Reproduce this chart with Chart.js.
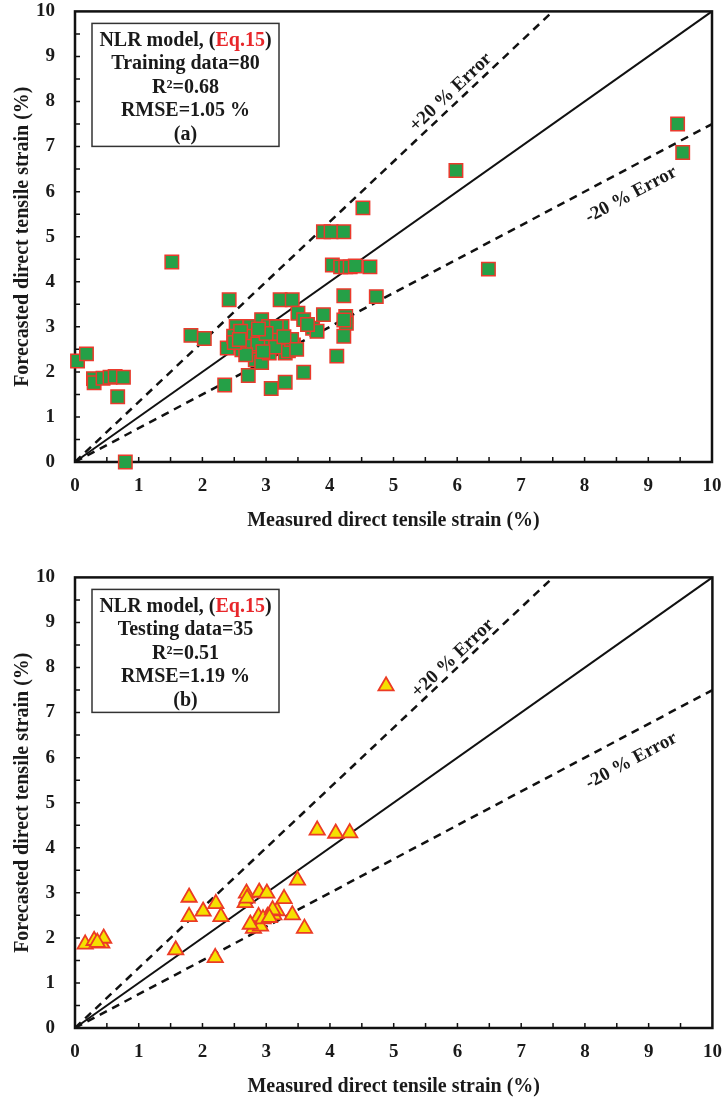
<!DOCTYPE html>
<html>
<head>
<meta charset="utf-8">
<script src="https://cdn.jsdelivr.net/npm/chart.js@4.4.1/dist/chart.umd.min.js"></script>
<style>
  body { margin: 0; background: #fff; width: 723px; height: 1100px; overflow: hidden; position: relative; }
  .box { position: absolute; left: 0; width: 723px; height: 540px; }
</style>
</head>
<body>
<div class="box" style="top:-1px"><canvas id="chartA" width="723" height="540"></canvas></div>
<div class="box" style="top:565px"><canvas id="chartB" width="723" height="540"></canvas></div>
<script>
// training data (a)
const trainMeasured = [0.04, 0.18, 0.29, 0.30, 0.44, 0.55, 0.63, 0.76, 0.67, 0.79,
  1.52, 1.82, 2.03, 2.35, 2.42, 2.53, 2.39, 2.49, 2.62, 2.75,
  2.77, 2.78, 2.83, 2.72, 2.93, 2.93, 3.04, 3.01, 3.05, 3.08,
  3.22, 3.25, 3.22, 3.30, 3.30, 3.41, 3.43, 3.50, 3.59, 3.59,
  3.73, 3.80, 3.90, 3.90, 4.02, 4.04, 4.11, 4.22, 4.22, 4.25,
  4.26, 4.22, 4.17, 4.25, 4.32, 4.40, 4.52, 4.63, 4.73, 5.98,
  6.49, 9.46, 9.54,
  2.60, 2.87, 3.12, 3.15, 3.35, 2.95, 2.68, 3.16, 3.40, 3.65, 2.50, 3.00, 4.22, 2.88, 3.28, 2.58, 3.48];
const trainForecast = [2.24, 2.40, 1.85, 1.76, 1.86, 1.88, 1.90, 1.88, 1.45, 0,
  4.44, 2.81, 2.74, 1.71, 3.60, 3.01, 2.53, 2.79, 2.49, 3.01,
  2.79, 2.57, 2.27, 1.92, 2.21, 3.16, 3.01, 2.72, 2.42, 1.63,
  3.60, 3.01, 2.66, 2.42, 1.77, 3.60, 2.60, 3.30, 3.16, 1.99,
  2.97, 2.90, 3.27, 5.11, 5.11, 4.37, 2.35, 5.11, 3.69, 3.23,
  3.08, 2.79, 4.33, 4.33, 4.33, 4.35, 5.64, 4.33, 3.67, 6.47,
  4.28, 7.50, 6.87,
  2.90, 2.62, 2.85, 2.55, 2.47, 2.45, 2.38, 3.00, 2.72, 3.05, 2.65, 2.85, 3.15, 2.95, 2.78, 2.72, 2.50];

// testing data (b)
const testMeasured = [0.16, 0.30, 0.42, 0.45, 1.58, 1.79, 1.79, 2.01, 2.21, 2.29,
  2.20, 2.69, 2.67, 2.80, 2.88, 2.91, 2.89, 3.01, 3.02, 3.12,
  3.17, 3.28, 3.41, 3.49, 3.60, 3.80, 4.09, 4.31, 4.88,
  2.75, 2.95, 3.10, 0.35, 2.70, 3.05];
const testForecast = [1.86, 1.94, 1.88, 1.99, 1.73, 2.90, 2.47, 2.59, 2.76, 2.47,
  1.56, 2.99, 2.78, 2.21, 2.47, 2.26, 3.01, 2.99, 2.47, 2.51,
  2.60, 2.87, 2.51, 3.28, 2.21, 4.39, 4.32, 4.33, 7.59,
  2.30, 2.42, 2.62, 1.90, 2.88, 2.45];

// reference lines: 1:1 and the two error bounds
const lineX = [0, 10];
const lineY = [0, 10];
const upperX = [0, 7.5];
const upperY = [0, 10];
const lowerX = [0, 10];
const lowerY = [0, 7.5];
const ticks = [0, 1, 2, 3, 4, 5, 6, 7, 8, 9, 10];

const serif = '"Liberation Serif", "Times New Roman", serif';

function pts(xs, ys) { return xs.map((v, i) => ({x: v, y: ys[i]})); }

const frame = {
  id: 'frame',
  beforeDatasetsDraw(chart) {
    const {ctx, chartArea: a, scales: {x, y}} = chart;
    ctx.save();
    ctx.strokeStyle = '#111';
    ctx.lineWidth = 2.5;
    ctx.strokeRect(a.left, a.top, a.right - a.left, a.bottom - a.top);
    ctx.lineWidth = 1.5;
    ctx.beginPath();
    for (let v = 0.5; v < 10; v += 0.5) {
      const px = x.getPixelForValue(v);
      ctx.moveTo(px, a.bottom); ctx.lineTo(px, a.bottom - 5);
      const py = y.getPixelForValue(v);
      ctx.moveTo(a.left, py); ctx.lineTo(a.left + 5, py);
    }
    ctx.stroke();
    ctx.restore();
  }
};

const notes = {
  id: 'notes',
  afterDraw(chart, args, opts) {
    const {ctx, chartArea: a, scales: {x, y}} = chart;
    ctx.save();
    // info box
    const bx = a.left + 17, by = a.top + 12, bw = 187, bh = 123;
    ctx.strokeStyle = '#333';
    ctx.lineWidth = 1.5;
    ctx.strokeRect(bx, by, bw, bh);
    ctx.font = 'bold 20px ' + serif;
    ctx.textBaseline = 'middle';
    ctx.fillStyle = '#1a1a1a';
    const cx = bx + bw / 2;
    // first line with red equation ref
    const p1 = 'NLR model, (', p2 = 'Eq.15', p3 = ')';
    const w1 = ctx.measureText(p1).width, w2 = ctx.measureText(p2).width, w3 = ctx.measureText(p3).width;
    let sx = cx - (w1 + w2 + w3) / 2;
    const ly = by + 17;
    ctx.textAlign = 'left';
    ctx.fillText(p1, sx, ly);
    ctx.fillStyle = '#e8262a';
    ctx.fillText(p2, sx + w1, ly);
    ctx.fillStyle = '#1a1a1a';
    ctx.fillText(p3, sx + w1 + w2, ly);
    ctx.textAlign = 'center';
    opts.lines.forEach((t, i) => ctx.fillText(t, cx, ly + 23.5 * (i + 1)));

    // error labels
    ctx.font = 'bold 19px ' + serif;
    const lab = (txt, vx, vy, ang) => {
      ctx.save();
      ctx.translate(x.getPixelForValue(vx), y.getPixelForValue(vy));
      ctx.rotate(ang);
      ctx.fillText(txt, 0, 0);
      ctx.restore();
    };
    lab('+20 % Error', opts.up[0], opts.up[1], -Math.atan(4 / 3 * 45.2 / 63.5));
    lab('-20 % Error', opts.low[0], opts.low[1], -Math.atan(0.75 * 45.2 / 63.5));
    ctx.restore();
  }
};

// invisible tick marks keep labels offset from the axis without widening the layout padding
const hiddenTicks = len => ({display: true, drawOnChartArea: false, drawTicks: true, tickLength: len, tickColor: 'rgba(0,0,0,0)'});

function makeChart(id, xs, ys, marker, info) {
  const refStyle = {type: 'line', pointRadius: 0, borderColor: '#111', fill: false, clip: false, order: 2};
  return new Chart(document.getElementById(id), {
    type: 'scatter',
    data: {
      datasets: [
        Object.assign({data: pts(lineX, lineY), borderWidth: 2}, refStyle),
        Object.assign({data: pts(upperX, upperY), borderWidth: 2.5, borderDash: [8, 6]}, refStyle),
        Object.assign({data: pts(lowerX, lowerY), borderWidth: 2.5, borderDash: [8, 6]}, refStyle),
        Object.assign({data: pts(xs, ys), clip: false, order: 1}, marker)
      ]
    },
    options: {
      responsive: false,
      animation: false,
      devicePixelRatio: 1,
      layout: {padding: 0},
      plugins: {
        legend: {display: false},
        tooltip: {enabled: false},
        notes: info
      },
      scales: {
        x: {
          type: 'linear', min: 0, max: 10,
          grid: hiddenTicks(12),
          border: {display: false},
          afterBuildTicks: s => { s.ticks = ticks.map(v => ({value: v})); },
          ticks: {padding: 1, color: '#1a1a1a', font: {family: serif, size: 19, weight: 'bold'}},
          title: {display: true, text: 'Measured direct tensile strain (%)', color: '#1a1a1a',
                  padding: {top: 0, bottom: 6}, font: {family: serif, size: 20, weight: 'bold'}},
          afterFit: s => { s.height = 77; }
        },
        y: {
          type: 'linear', min: 0, max: 10,
          grid: hiddenTicks(19),
          border: {display: false},
          afterBuildTicks: s => { s.ticks = ticks.map(v => ({value: v})); },
          ticks: {padding: 1, color: '#1a1a1a', font: {family: serif, size: 19, weight: 'bold'}},
          title: {display: true, text: 'Forecasted direct tensile strain (%)', color: '#1a1a1a',
                  padding: {top: 11, bottom: 0}, font: {family: serif, size: 20, weight: 'bold'}},
          afterFit: s => { s.width = 75; }
        }
      }
    },
    plugins: [frame, notes]
  });
}

makeChart('chartA', trainMeasured, trainForecast,
  {pointStyle: 'rect', pointRadius: 9.5, backgroundColor: '#25a047', borderColor: '#ea3a2c', borderWidth: 1.5},
  {lines: ['Training data=80', 'R\u00B2=0.68', 'RMSE=1.05 %', '(a)'], up: [5.9, 8.2], low: [8.73, 5.93]});

makeChart('chartB', testMeasured, testForecast,
  {pointStyle: 'triangle', pointRadius: 8.8, backgroundColor: '#f5e000', borderColor: '#ec3b24', borderWidth: 1.8},
  {lines: ['Testing data=35', 'R\u00B2=0.51', 'RMSE=1.19 %', '(b)'], up: [5.93, 8.2], low: [8.73, 5.93]});
</script>
</body>
</html>
